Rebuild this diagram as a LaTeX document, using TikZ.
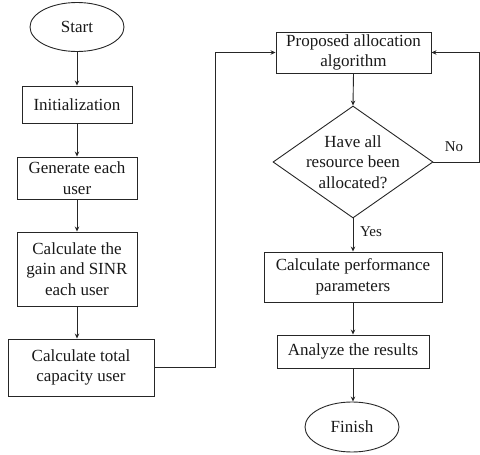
\documentclass[tikz,border=0pt]{standalone}
\usepackage{fontspec}
\setmainfont{Liberation Serif}
\usetikzlibrary{shapes.geometric,arrows.meta}
\begin{document}
\begin{tikzpicture}[x=1pt,y=1pt,
  every node/.style={font=\fontsize{17}{20.5}\selectfont, text=black!90},
  box/.style={draw=black!85, line width=0.9pt, rectangle, align=center, inner sep=0pt},
  oval/.style={draw=black!85, line width=0.9pt, ellipse, inner sep=0pt},
  diam/.style={draw=black!85, line width=0.9pt, diamond, inner sep=0pt},
  conn/.style={draw=black!85, line width=0.9pt},
  arr/.style={conn, -{Stealth[length=5pt,width=4.5pt]}},
  lbl/.style={font=\fontsize{15}{18}\selectfont, inner sep=0pt}
]
\useasboundingbox (0,0) rectangle (480,-455);
% left column
\node[oval, minimum width=94, minimum height=49] (start) at (77,-27) {Start};
\node[box, minimum width=110, minimum height=37] (init) at (77,-104.5) {Initialization};
\node[box, minimum width=120, minimum height=42] (gen) at (77,-178) {Generate each\\user};
\node[box, minimum width=120, minimum height=74] (gain) at (77,-269) {Calculate the\\gain and SINR\\each user};
\node[box, minimum width=146, minimum height=57] (total) at (81,-367.5) {Calculate total\\capacity user};
% right column
\node[box, minimum width=155, minimum height=41] (prop) at (353.5,-52.5) {Proposed allocation\\algorithm};
\node[diam, minimum width=160, minimum height=112] (dec) at (353,-162) {};
\node[align=center, inner sep=0pt] (dectext) at (dec.center) {Have all\\resource been\\allocated?};
\node[box, minimum width=178, minimum height=50] (perf) at (353,-277) {Calculate performance\\parameters};
\node[box, minimum width=152, minimum height=33] (anal) at (353,-351.5) {Analyze the results};
\node[oval, minimum width=94, minimum height=50] (finish) at (352,-427) {Finish};
% labels
\node[lbl] (nolbl) at (454,-147) {No};
\node[lbl] (yeslbl) at (371,-232) {Yes};
% turning points
\coordinate (turnL) at (215,-52.5);
\coordinate (turnR) at (479,-52.5);
% connectors
\draw[arr] (start.south) -- (start.south |- init.north);
\draw[arr] (init.south) -- (gen.north);
\draw[arr] (gen.south) -- (gain.north);
\draw[arr] (gain.south) -- (gain.south |- total.north);
\draw[arr] (total.east) -| (turnL) -- (prop.west);
\draw[arr] (prop.south) -- (dec.north);
\draw[arr] (dec.east) -| (turnR) -- (prop.east);
\draw[arr] (dec.south) -- (perf.north);
\draw[arr] (perf.south) -- (anal.north);
\draw[arr] (anal.south) -- (anal.south |- finish.north);
\end{tikzpicture}
\end{document}
